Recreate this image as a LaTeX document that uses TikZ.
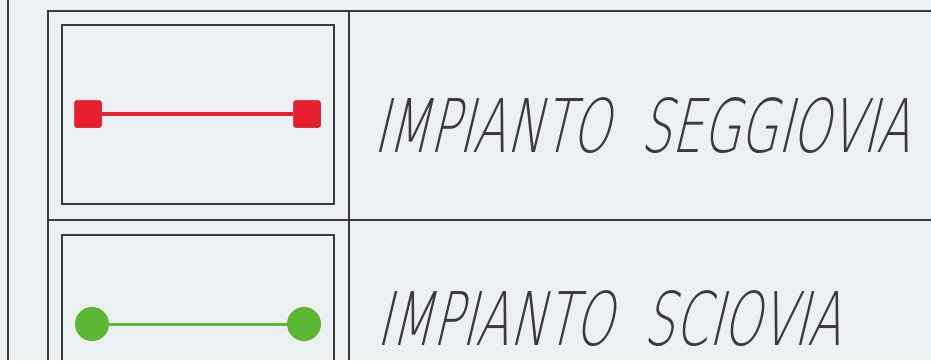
\documentclass[tikz,border=0pt]{standalone}
\usepackage{fontspec}
\newfontfamily\cadfont{DejaVuSans-ExtraLight.ttf}[FakeSlant=0.24,FakeStretch=0.655]
\definecolor{bg}{HTML}{EDF0F2}
\definecolor{ink}{HTML}{3A3A3E}
\definecolor{redc}{HTML}{E8202E}
\definecolor{greenc}{HTML}{5CB832}
\tikzset{
  frame/.style={draw=ink,line width=1.3pt},
  redsq/.style={rectangle,fill=redc,draw=redc!80!black,line width=0.5pt,rounded corners=2.5pt,minimum size=27pt,inner sep=0pt},
  greendot/.style={circle,fill=greenc,minimum size=34pt,inner sep=0pt},
  redline/.style={draw=redc,line width=3.2pt},
  greenline/.style={draw=greenc,line width=3pt},
  label/.style={anchor=base west,inner sep=0pt,text depth=0pt,text=ink,font=\cadfont\fontsize{74}{74}\selectfont}
}
\begin{document}
\begin{tikzpicture}[x=1pt,y=-1pt]
\fill[bg] (0,0) rectangle (931,360);
\useasboundingbox (0,0) rectangle (931,360);
% frame lines
\draw[frame] (8,0) -- (8,360);
\draw[frame] (48,360) -- (48,11) -- (931,11);
\draw[frame] (349,11) -- (349,360);
\draw[frame] (48,220) -- (931,220);
% inner boxes
\draw[frame] (62,25) rectangle (334,204);
\draw[frame] (62,360) -- (62,235) -- (334,235) -- (334,360);
% red symbol
\node[redsq] (r1) at (88,114) {};
\node[redsq] (r2) at (307,114) {};
\draw[redline] (r1) -- (r2);
% green symbol
\node[greendot] (g1) at (92,324) {};
\node[greendot] (g2) at (304,324) {};
\draw[greenline] (g1) -- (g2);
% labels
\node[label] (t1) at (373,152) {IMPIANTO\ \ SEGGIOVIA};
\node[label] (t2) at (376,345) {IMPIANTO\ \ SCIOVIA};
\end{tikzpicture}
\end{document}
